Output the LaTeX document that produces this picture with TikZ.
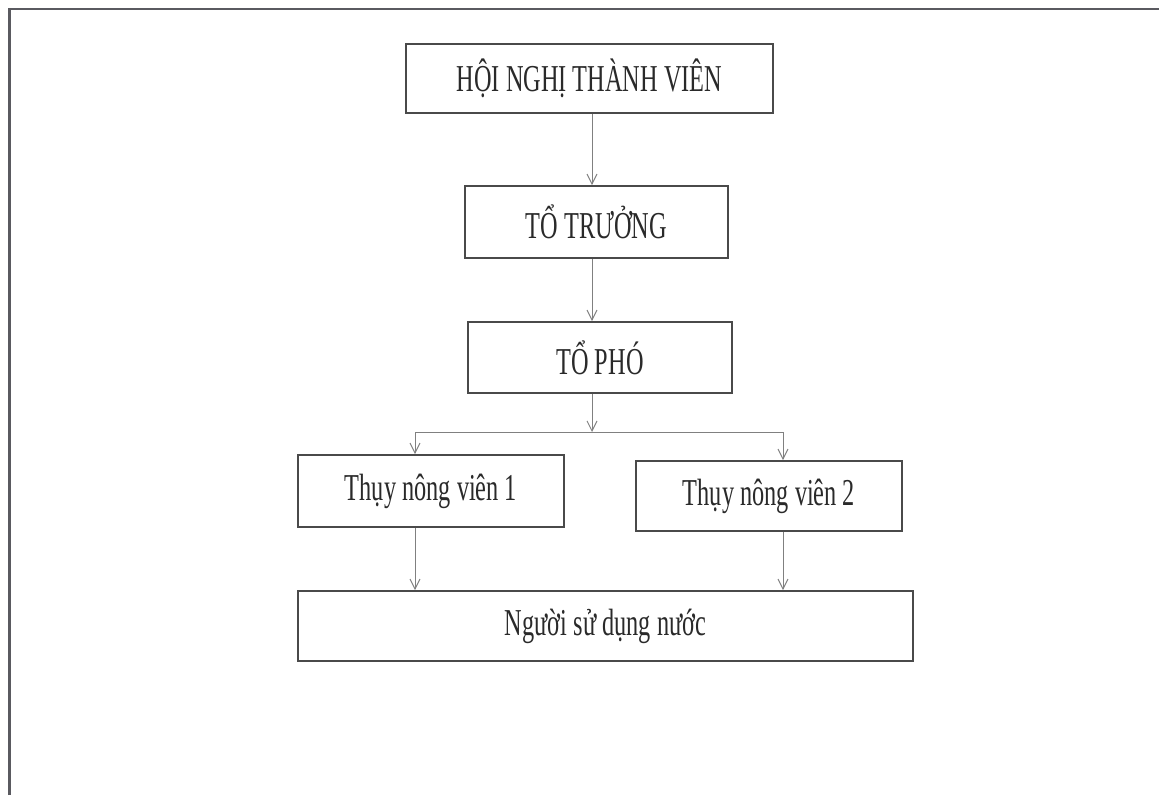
\documentclass[tikz,border=0pt]{standalone}
\usepackage{fontspec}
\setmainfont{Liberation Serif}[FakeStretch=0.64]
\usetikzlibrary{arrows.meta}
\definecolor{boxline}{HTML}{4A4A4A}
\definecolor{arrline}{HTML}{808080}
\definecolor{txt}{HTML}{2A2A2A}
\definecolor{frame}{HTML}{5A5A60}
\tikzset{
  orgbox/.style={draw=boxline, line width=1.6pt, inner sep=0pt, text=txt,
    font=\fontsize{38}{44}\selectfont},
  arr/.style={draw=arrline, line width=1pt,
    -{Straight Barb[length=10pt,width=10pt,line width=1pt]}},
  link/.style={draw=arrline, line width=1pt},
}
\begin{document}
\begin{tikzpicture}[x=1pt,y=-1pt]
\useasboundingbox (0,0) rectangle (1159,795);
% outer frame (left and top edges)
\draw[frame, line width=3pt] (9.5,795) -- (9.5,9);
\draw[frame, line width=2pt] (8,9) -- (1159,9);

\node[orgbox, minimum width=367pt, minimum height=69pt] (hn) at (589.5,78.5) {HỘI NGHỊ THÀNH VIÊN};
\node[orgbox, minimum width=263pt, minimum height=72pt] (tt) at (596.5,222) {TỔ TRƯỞNG};
\node[orgbox, minimum width=264pt, minimum height=71pt] (tp) at (600,357.5) {TỔ PHÓ};
\node[orgbox, minimum width=266pt, minimum height=72pt] (b1) at (431,491) {Thụy nông viên 1};
\node[orgbox, minimum width=266pt, minimum height=70pt] (b2) at (769,496) {Thụy nông viên 2};
\node[orgbox, minimum width=615pt, minimum height=70pt] (b3) at (605.5,626) {Người sử dụng nước};

\coordinate (jm) at (592,432);
\coordinate (jl) at (415,432);
\coordinate (jr) at (783,432);
\coordinate (c1) at (592,0);

\draw[arr] (hn.south -| c1) -- (tt.north -| c1);
\draw[arr] (tt.south -| c1) -- (tp.north -| c1);
\draw[arr] (tp.south -| jm) -- (jm);
\draw[link] (jl) -- (jr);
\draw[arr] (jl) -- (jl |- b1.north);
\draw[arr] (jr) -- (jr |- b2.north);
\draw[arr] (jl |- b1.south) -- (jl |- b3.north);
\draw[arr] (jr |- b2.south) -- (jr |- b3.north);
\end{tikzpicture}
\end{document}
